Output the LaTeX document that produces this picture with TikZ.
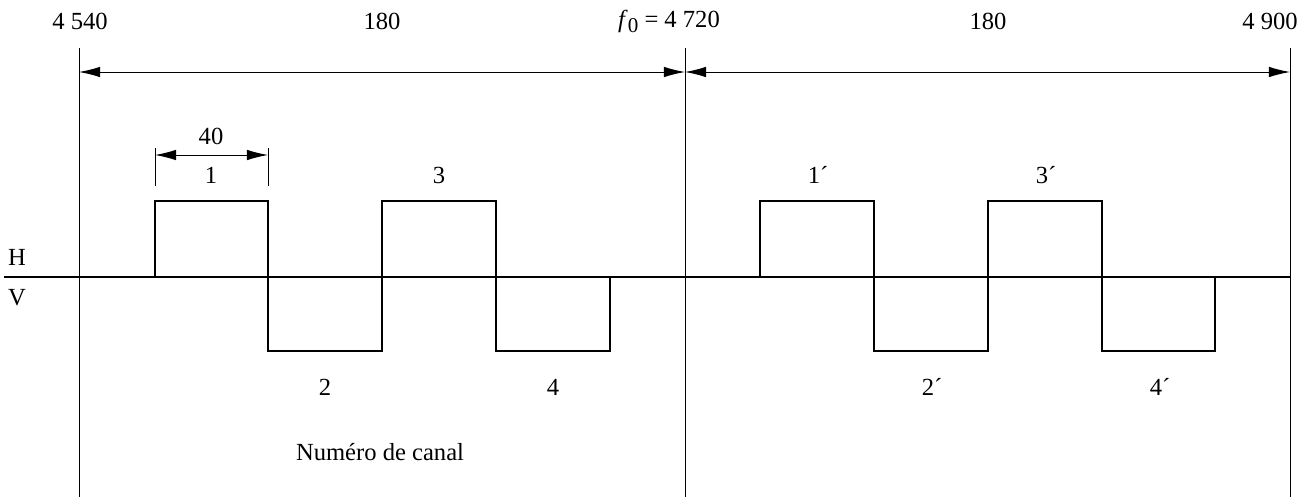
\documentclass[tikz,border=0pt]{standalone}
\usepackage{fontspec}
\setmainfont{Liberation Serif}
\usepackage{tikz}
\usetikzlibrary{arrows.meta}

\begin{document}
\begin{tikzpicture}[x=0.02cm, y=-0.02cm, font=\fontsize{14}{16}\selectfont,
    thin line/.style={line width=0.55pt},
    signal/.style={line width=1.6pt},
    dim/.style={thin line, {Latex[length=12pt,width=6pt]}-{Latex[length=12pt,width=6pt]}},
    lbl/.style={inner sep=1pt}]
    \useasboundingbox (0,0) rectangle (1313,497);
    % reference lines
    \coordinate (a0) at (79,48);   \coordinate (a1) at (79,497);
    \coordinate (m0) at (685,48);  \coordinate (m1) at (685,497);
    \coordinate (b0) at (1290,48); \coordinate (b1) at (1290,497);
    \draw[thin line] (a0) -- (a1) (m0) -- (m1) (b0) -- (b1);
    \coordinate (da) at (79,72);
    \coordinate (dm) at (685,72);
    \coordinate (db) at (1290,72);
    \draw[dim] (da) -- (dm);
    \draw[dim] (dm) -- (db);
    \node[lbl](fa) at (80,21){4 540};
    \node[lbl](sa) at (382,21){180};
    \node[lbl](f0) at (669,21){\textit{f}\raisebox{-0.45ex}{\fontsize{12}{12}\selectfont 0} = 4 720};
    \node[lbl](sb) at (988,21){180};
    \node[lbl](fb) at (1270,21){4 900};
    % channel width
    \coordinate (w0) at (155,148); \coordinate (w1) at (155,186);
    \coordinate (w2) at (268,148); \coordinate (w3) at (268,186);
    \draw[thin line] (w0) -- (w1) (w2) -- (w3);
    \draw[dim] (155,155) -- (268,155);
    \node[lbl](bw) at (211,136){40};
    % axis and channels
    \coordinate (ax0) at (4,277); \coordinate (ax1) at (1290,277);
    \draw[signal] (ax0) -- (ax1);
    \node[lbl](h) at (17,257){H};
    \node[lbl](v) at (17,298){V};
    \draw[signal] (155,277) -- (155,201) -- (268,201) -- (268,351) -- (382,351)
        -- (382,201) -- (496,201) -- (496,351) -- (610,351) -- (610,277);
    \draw[signal] (760,277) -- (760,201) -- (874,201) -- (874,351) -- (988,351)
        -- (988,201) -- (1102,201) -- (1102,351) -- (1215,351) -- (1215,277);
    \node[lbl](c1) at (211,175){1};
    \node[lbl](c3) at (439,175){3};
    \node[lbl](c1p) at (818,175){1´};
    \node[lbl](c3p) at (1046,175){3´};
    \node[lbl](c2) at (325,387){2};
    \node[lbl](c4) at (553,387){4};
    \node[lbl](c2p) at (932,387){2´};
    \node[lbl](c4p) at (1160,387){4´};
    \node[lbl](num) at (380,452){Numéro de canal};
\end{tikzpicture}
\end{document}
